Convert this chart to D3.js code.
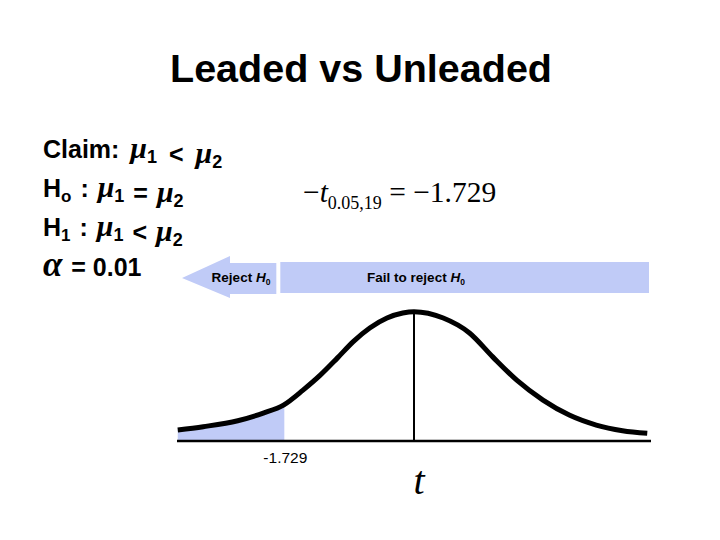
<!DOCTYPE html>
<html>
<head>
<meta charset="utf-8">
<script src="https://cdn.jsdelivr.net/npm/d3@7"></script>
<style>
  html, body { margin: 0; padding: 0; background: #fff; }
  svg { display: block; }
</style>
</head>
<body>
<svg id="chart" width="720" height="540"></svg>
<script>
// ---- data ----
const title = "Leaded vs Unleaded";
const tValues = [-3.15, -2.81, -2.35, -2.01, -1.74, -1.48, -1.25, -1.02, -0.81, -0.59, -0.36, -0.15, 0,
                 0.39, 0.74, 1.05, 1.37, 1.72, 2.07, 2.43, 2.78, 3.11];
const densities = [0.033, 0.043, 0.061, 0.084, 0.108, 0.153, 0.198, 0.250, 0.299, 0.340, 0.370, 0.385, 0.389,
                   0.370, 0.325, 0.253, 0.183, 0.123, 0.078, 0.048, 0.031, 0.023];
const criticalValue = -1.729;
const tDomain = [-3.16, 3.16];
const criticalLabel = "-1.729";
const regionLabels = ["Reject", "Fail to reject"];

const svg = d3.select("#chart");
const blue = "#c0cbf7";
const sans = "Arial, 'Liberation Sans', Helvetica, sans-serif";
const serif = "'Times New Roman', 'Liberation Serif', serif";

// scales
const x = d3.scaleLinear().domain(tDomain).range([177, 651]);
const y = d3.scaleLinear().domain([0, 0.4]).range([441, 308]);

const pts = tValues.map((t, i) => ({ t, d: densities[i] }));

// title
svg.append("text").attr("x", 361).attr("y", 82).attr("text-anchor", "middle")
  .attr("font-family", sans).attr("font-weight", "bold").attr("font-size", 39.5)
  .text(title);

// left hypothesis text
const mu = (sel, sub, dx) => {
  sel.append("tspan").attr("dx", dx || 0).attr("font-family", "'Liberation Serif', serif").attr("font-style", "italic").attr("font-weight", "bold").attr("font-size", 30).text("μ");
  sel.append("tspan").attr("font-size", 18).attr("dy", 5).text(sub);
  sel.append("tspan").attr("dy", -5).text("");
};
const lines = [158, 197, 236, 276];
const lt = (yy) => svg.append("text").attr("x", 43).attr("y", yy)
  .attr("font-family", sans).attr("font-weight", "bold").attr("font-size", 25);

let t1 = lt(lines[0]);
t1.append("tspan").text("Claim: ");
mu(t1, "1", 4); t1.append("tspan").attr("dx", 5).text(" < "); mu(t1, "2", 5);

let t2 = lt(lines[1]);
t2.append("tspan").text("H");
t2.append("tspan").attr("font-size", 17).attr("dy", 5).text("o");
t2.append("tspan").attr("dy", -5).attr("dx", 2).text(" : ");
mu(t2, "1", 2); t2.append("tspan").attr("dx", 2).text(" = "); mu(t2, "2", 2);

let t3 = lt(lines[2]);
t3.append("tspan").text("H");
t3.append("tspan").attr("font-size", 17).attr("dy", 5).text("1");
t3.append("tspan").attr("dy", -5).attr("dx", 2).text(" : ");
mu(t3, "1", 2); t3.append("tspan").attr("dx", 2).text(" < "); mu(t3, "2", 2);

let t4 = lt(lines[3]);
t4.append("tspan").attr("font-family", "'Liberation Serif', serif").attr("font-style", "italic").attr("font-size", 35).text("α");
t4.append("tspan").attr("dx", 2).text(" = 0.01");

// formula
const f = svg.append("text").attr("x", 303).attr("y", 202)
  .attr("font-family", serif).attr("font-size", 29.5);
f.append("tspan").text("−");
f.append("tspan").attr("font-style", "italic").text("t");
f.append("tspan").attr("font-size", 18).attr("dy", 7).text("0.05,19");
f.append("tspan").attr("dy", -7).text(" = −1.729");

// banners
const xc = x(criticalValue);
const arrow = d3.path();
arrow.moveTo(x(tDomain[0]) + 5, 278);
arrow.lineTo(230, 256);
arrow.lineTo(230, 263);
arrow.lineTo(xc - 8, 263);
arrow.lineTo(xc - 8, 294);
arrow.lineTo(230, 294);
arrow.lineTo(230, 298);
arrow.closePath();
svg.append("path").attr("d", arrow.toString()).attr("fill", blue);
svg.append("rect").attr("x", xc - 4).attr("y", 262).attr("width", x(tDomain[1]) - 2 - (xc - 4)).attr("height", 31).attr("fill", blue);

const lab = (xx, txt) => {
  const tt = svg.append("text").attr("x", xx).attr("y", 282).attr("text-anchor", "middle")
    .attr("font-family", sans).attr("font-weight", "bold").attr("font-size", 13.5);
  tt.append("tspan").text(txt + " ");
  tt.append("tspan").attr("font-style", "italic").text("H");
  tt.append("tspan").attr("font-size", 8.5).attr("dy", 3).text("0");
};
lab(241, regionLabels[0]);
lab(416, regionLabels[1]);

// shaded rejection region
svg.append("clipPath").attr("id", "rej").append("rect")
  .attr("x", 0).attr("y", 0).attr("width", xc).attr("height", 540);
const area = d3.area().x(d => x(d.t)).y0(y(0)).y1(d => y(d.d)).curve(d3.curveMonotoneX);
svg.append("path").datum(pts).attr("d", area).attr("fill", blue).attr("clip-path", "url(#rej)");

// axis line
svg.append("line").attr("x1", x(tDomain[0])).attr("x2", x(tDomain[1]))
  .attr("y1", y(0)).attr("y2", y(0)).attr("stroke", "#000").attr("stroke-width", 2.5);

// center vertical line
svg.append("line").attr("x1", x(0)).attr("x2", x(0))
  .attr("y1", y(0)).attr("y2", y(densities[tValues.indexOf(0)]))
  .attr("stroke", "#000").attr("stroke-width", 2);

// curve
const line = d3.line().x(d => x(d.t)).y(d => y(d.d)).curve(d3.curveMonotoneX);
svg.append("path").datum(pts).attr("d", line).attr("fill", "none")
  .attr("stroke", "#000").attr("stroke-width", 5);

// labels under axis
svg.append("text").attr("x", x(criticalValue) + 1).attr("y", 463).attr("text-anchor", "middle")
  .attr("font-family", sans).attr("font-size", 15.5).text(criticalLabel);
svg.append("text").attr("x", 419).attr("y", 494).attr("text-anchor", "middle")
  .attr("font-family", serif).attr("font-style", "italic").attr("font-size", 40).text("t");
</script>
</body>
</html>
